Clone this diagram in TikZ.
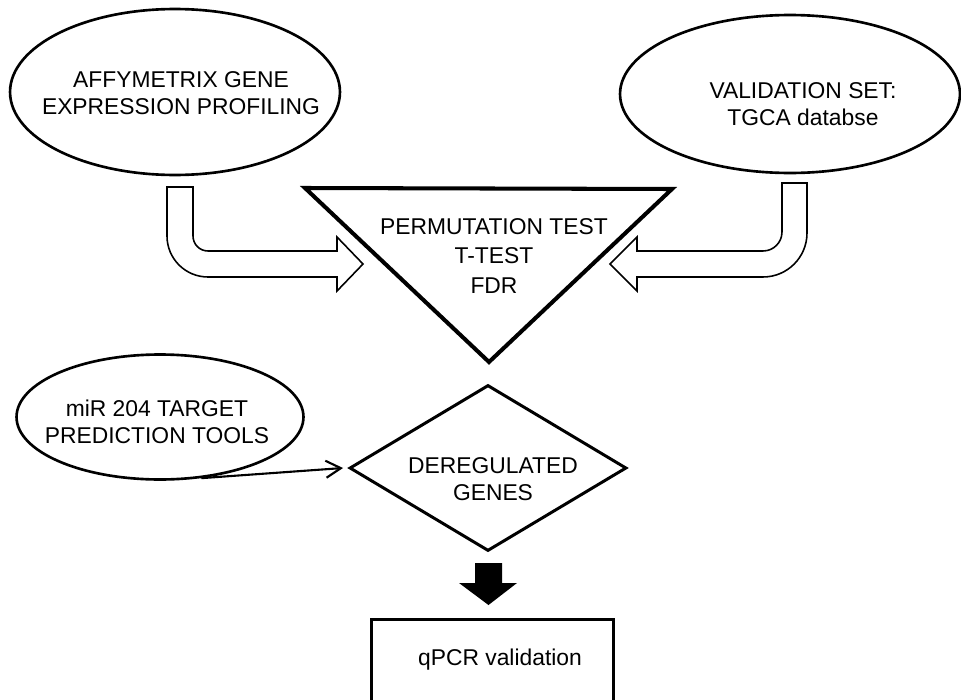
\documentclass[tikz,border=0pt]{standalone}
\usepackage{fontspec}
\setmainfont{Liberation Sans}
\usetikzlibrary{shapes.geometric,arrows.meta}

\begin{document}
\begin{tikzpicture}[x=0.02cm, y=-0.02cm,
		every node/.style={font=\fontsize{13}{15.5}\selectfont, align=center},
		oval/.style={ellipse, draw, line width=1.5pt, inner sep=0pt},
		hollow/.style={draw, line width=0.9pt, fill=white}]
			%%%%% START %%%%%
			
			\clip (0,0) rectangle (961,700);
			
			\node[oval, minimum width=6.6cm, minimum height=3.32cm] (affy) at (175,92) {};
			\node (affytext) at (181,93) {AFFYMETRIX GENE\\EXPRESSION PROFILING};
			\node[oval, minimum width=6.8cm, minimum height=3.16cm] (valid) at (790,94) {};
			\node (validtext) at (803,104) {VALIDATION SET:\\TGCA databse};
			
			\draw[line width=2.3pt, line join=miter] (305,188) -- (672,189) -- (489,362) -- cycle;
			\node[font=\fontsize{13}{17}\selectfont] (perm) at (494,256) {PERMUTATION TEST\\T-TEST\\FDR};
			
			\draw[hollow] (167,187) -- (167,236) arc[start angle=180, end angle=270, radius=0.82cm] -- (337,277) -- (337,291) -- (363,264) -- (337,237) -- (337,251) -- (208,251) arc[start angle=270, end angle=180, radius=0.30cm] -- (193,187) -- cycle;
			\draw[hollow] (807,183) -- (807,233) arc[start angle=0, end angle=-90, radius=0.88cm] -- (637,277) -- (637,291) -- (610,264) -- (637,237) -- (637,251) -- (763,251) arc[start angle=270, end angle=360, radius=0.38cm] -- (782,183) -- cycle;
			
			\node[oval, minimum width=5.74cm, minimum height=2.5cm] (mir) at (160,417) {};
			\node (mirtext) at (157,422) {miR 204 TARGET\\PREDICTION TOOLS};
			\node[diamond, draw, line width=1.7pt, inner sep=0pt, minimum width=5.54cm, minimum height=3.32cm] (genes) at (488,468) {};
			\node (genestext) at (493,479) {DEREGULATED\\GENES};
			
			\draw[line width=1.2pt, -{Straight Barb[length=0.3cm, width=0.34cm]}] (mir.-56) -- ([xshift=-0.1cm]genes.west);
			
			\fill (475,563) -- (502,563) -- (502,583) -- (517,583) -- (488.5,605) -- (459,583) -- (475,583) -- cycle;
			
			\node[draw, line width=1.7pt, anchor=north, minimum width=4.86cm, minimum height=1.68cm] (qpcr) at (492.5,618) {};
			\node (qpcrtext) at (500,660) {qPCR validation};
			
			%%%%% END %%%%%
\end{tikzpicture}
\end{document}
